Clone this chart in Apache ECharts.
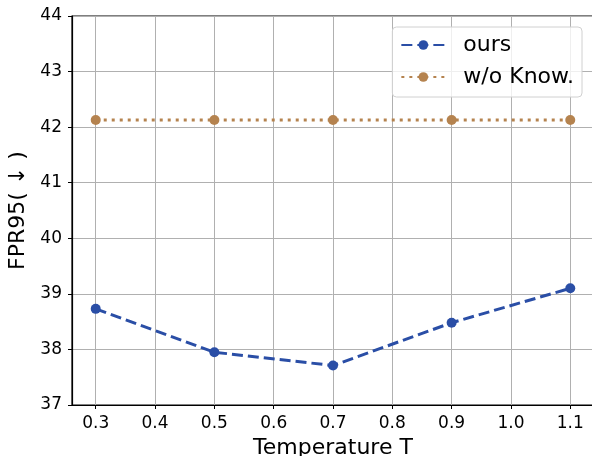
<!DOCTYPE html>
<html><head><meta charset="utf-8">
<script src="https://cdn.jsdelivr.net/npm/echarts@6/dist/echarts.min.js"></script>
<style>html,body{margin:0;padding:0;background:#fff}#c{width:592px;height:456px}</style>
</head><body><div id="c"></div>
<script>
const temps = [0.3, 0.5, 0.7, 0.9, 1.1];
const ours = [38.73, 37.95, 37.71, 38.48, 39.10];
const woKnow = [42.13, 42.13, 42.13, 42.13, 42.13];
const xTicks = [0.3, 0.4, 0.5, 0.6, 0.7, 0.8, 0.9, 1.0, 1.1];

const FONT = 'DejaVu Sans';
const chart = echarts.init(document.getElementById('c'), null, {renderer: 'canvas'});
chart.setOption({
  animation: false,
  textStyle: {fontFamily: FONT},
  grid: {left: 72, top: 16, bottom: 51, right: -2, containLabel: false, outerBoundsMode: 'none',
    show: true, borderColor: '#000', borderWidth: 1.2, backgroundColor: 'transparent'},
  xAxis: {
    type: 'value', min: 0.26, max: 1.14,
    name: 'Temperature T', nameLocation: 'middle', nameGap: 30,
    nameTextStyle: {fontSize: 22, color: '#000', fontFamily: FONT},
    axisLine: {show: true, onZero: false, lineStyle: {color: '#000', width: 1.2}},
    axisTick: {show: true, length: 4, lineStyle: {color: '#000'}, customValues: xTicks},
    axisLabel: {color: '#000', fontSize: 17, margin: 10, fontFamily: FONT, customValues: xTicks,
      formatter: v => v.toFixed(1)},
    splitLine: {show: true, lineStyle: {color: '#b0b0b0', width: 1}},
    splitNumber: 9
  },
  yAxis: {
    type: 'value', min: 37, max: 44, interval: 1,
    name: 'FPR95( ↓ )', nameLocation: 'middle', nameGap: 35, nameRotate: 90,
    nameTextStyle: {fontSize: 22, color: '#000', fontFamily: FONT},
    axisLine: {show: true, lineStyle: {color: '#000', width: 1.2}},
    axisTick: {show: true, length: 4, lineStyle: {color: '#000'}},
    axisLabel: {color: '#000', fontSize: 17, margin: 10, fontFamily: FONT},
    splitLine: {show: true, lineStyle: {color: '#b0b0b0', width: 1}}
  },
  legend: {
    right: 10, top: 27, orient: 'vertical', itemGap: 10,
    itemWidth: 44, itemHeight: 12,
    padding: [7, 8, 9, 8],
    backgroundColor: 'rgba(255,255,255,0.8)', borderColor: '#d0d0d0', borderWidth: 1, borderRadius: 4,
    textStyle: {fontSize: 22, color: '#000', fontFamily: FONT, padding: [0, 0, 0, 13]},
    data: ['ours', 'w/o Know.']
  },
  series: [
    {name: 'ours', type: 'line', data: temps.map((t, i) => [t, ours[i]]),
      symbol: 'circle', symbolSize: 10, color: '#2a4ea6',
      lineStyle: {width: 3, type: [11, 5], color: '#2a4ea6'}, itemStyle: {color: '#2a4ea6'}, z: 3},
    {name: 'w/o Know.', type: 'line', data: temps.map((t, i) => [t, woKnow[i]]),
      symbol: 'circle', symbolSize: 10, color: '#b5834f',
      lineStyle: {width: 3, type: [3, 5], color: '#b5834f'}, itemStyle: {color: '#b5834f'}, z: 3}
  ]
});
</script></body></html>
